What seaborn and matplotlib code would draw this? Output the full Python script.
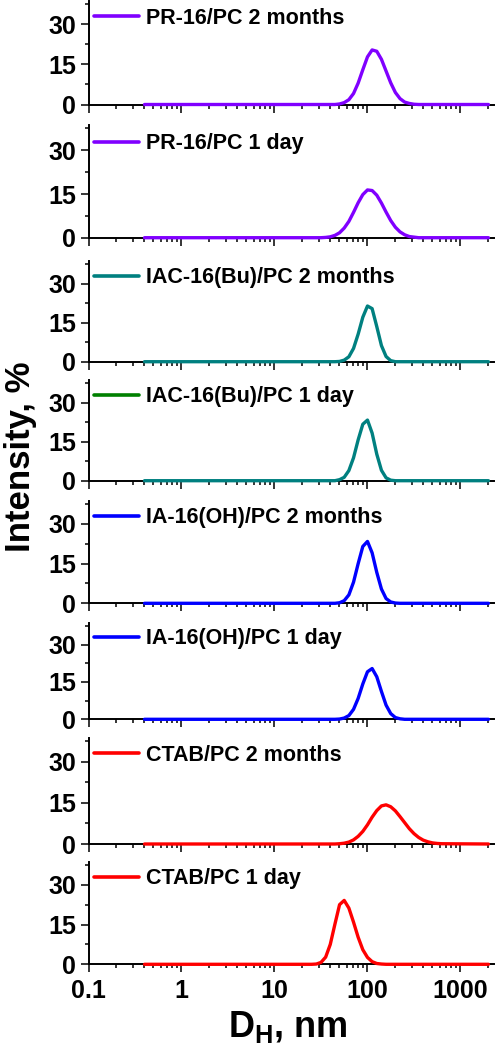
import pandas as pd
import seaborn as sns
import matplotlib.pyplot as plt
from matplotlib.lines import Line2D
from matplotlib.ticker import MultipleLocator, LogLocator, NullFormatter

# hydrodynamic diameter grid, nm
sizes = [0.4,
         25.1, 28.2, 31.6, 35.5, 39.8, 44.7, 50.1, 56.2, 63.1, 70.8,
         79.4, 89.1, 100.0, 112.2, 125.9, 141.3, 158.5, 177.8, 199.5, 223.9,
         251.2, 281.8, 316.2, 354.8, 398.1, 446.7, 501.2, 562.3, 631.0,
         2000.0]

# intensity, % (top panel first)
pr16_2m = [0, 0, 0, 0, 0, 0, 0, 0.2, 0.7, 1.8, 4.1, 8.0, 13.0, 17.8, 20.4, 19.9,
           16.9, 12.5, 8.1, 4.5, 2.2, 0.9, 0.4, 0.1, 0, 0, 0, 0, 0, 0, 0]
pr16_1d = [0, 0, 0, 0, 0.1, 0.3, 0.8, 1.7, 3.3, 5.6, 8.7, 12.0, 14.8, 16.4, 16.2, 14.6,
           11.9, 8.8, 5.9, 3.6, 2.0, 1.0, 0.4, 0.2, 0, 0, 0, 0, 0, 0, 0]
iac_2m = [0, 0, 0, 0, 0, 0, 0, 0.1, 0.6, 1.9, 5.1, 10.6, 17.1, 21.4, 20.4, 13.5,
          6.2, 2.0, 0.4, 0, 0, 0, 0, 0, 0, 0, 0, 0, 0, 0, 0]
iac_1d = [0, 0, 0, 0, 0, 0, 0, 0.4, 1.3, 3.9, 8.8, 15.7, 21.7, 23.3, 18.3, 10.2,
          4.0, 1.1, 0.2, 0, 0, 0, 0, 0, 0, 0, 0, 0, 0, 0, 0]
ia_2m = [0, 0, 0, 0, 0, 0, 0, 0.2, 1.0, 3.2, 8.0, 15.0, 21.5, 23.4, 19.1, 11.7,
         5.4, 1.8, 0.5, 0.1, 0, 0, 0, 0, 0, 0, 0, 0, 0, 0, 0]
ia_1d = [0, 0, 0, 0, 0, 0, 0, 0.1, 0.5, 1.5, 4.0, 8.4, 14.2, 19.1, 20.4, 17.1,
         11.2, 5.7, 2.3, 0.7, 0.2, 0, 0, 0, 0, 0, 0, 0, 0, 0, 0]
ctab_2m = [0, 0, 0, 0, 0, 0, 0, 0.1, 0.3, 0.7, 1.5, 2.8, 4.6, 7.0, 9.8, 12.2,
           13.9, 14.3, 13.6, 12.1, 10.0, 7.8, 5.6, 3.8, 2.4, 1.4, 0.8, 0.4, 0.2, 0.1, 0]
ctab_1d = [0, 0, 0.1, 0.7, 2.7, 7.5, 15.2, 22.5, 24.1, 21.2, 15.9, 10.2, 5.5, 2.6, 1.0, 0.3,
           0.1, 0, 0, 0, 0, 0, 0, 0, 0, 0, 0, 0, 0, 0, 0]

labels = ["PR-16/PC 2 months", "PR-16/PC 1 day",
          "IAC-16(Bu)/PC 2 months", "IAC-16(Bu)/PC 1 day",
          "IA-16(OH)/PC 2 months", "IA-16(OH)/PC 1 day",
          "CTAB/PC 2 months", "CTAB/PC 1 day"]
series = [pr16_2m, pr16_1d, iac_2m, iac_1d, ia_2m, ia_1d, ctab_2m, ctab_1d]
line_colors = ["#8000FF", "#8000FF", "#008080", "#008080",
               "#0000FF", "#0000FF", "#FF0000", "#FF0000"]
legend_colors = ["#8000FF", "#8000FF", "#008080", "#008000",
                 "#0000FF", "#0000FF", "#FF0000", "#FF0000"]

xticks = [0.1, 1, 10, 100, 1000]
xticklabels = ["0.1", "1", "10", "100", "1000"]

df = pd.DataFrame({
    "size": sizes * len(series),
    "intensity": [v for s in series for v in s],
    "sample": [lab for lab in labels for _ in sizes],
})

sns.set_style("ticks")
plt.rcParams["font.family"] = ["Liberation Sans", "DejaVu Sans"]
plt.rcParams["font.weight"] = "bold"
plt.rcParams["text.color"] = "black"
plt.rcParams["xtick.color"] = "black"
plt.rcParams["ytick.color"] = "black"
plt.rcParams["xtick.labelcolor"] = "black"
plt.rcParams["ytick.labelcolor"] = "black"
plt.rcParams["mathtext.fontset"] = "custom"
plt.rcParams["mathtext.rm"] = "Liberation Sans:bold"
plt.rcParams["mathtext.it"] = "Liberation Sans:bold"
plt.rcParams["mathtext.bf"] = "Liberation Sans:bold"

W, H = 500, 1052
fig = plt.figure(figsize=(W / 100, H / 100), dpi=100)

# panel top/bottom in pixels
panel_px = [(1, 104.5), (125, 237.7), (261, 361.7), (380, 480.7),
            (501, 603.3), (623, 719.3), (738, 844), (861.7, 964.3)]
ax_left, ax_w = 88.5, 405.6

for k, lab in enumerate(labels):
    top, bot = panel_px[k]
    ax = fig.add_axes([ax_left / W, 1 - bot / H, ax_w / W, (bot - top) / H])
    ax.set_xscale("log")
    sns.lineplot(data=df[df["sample"] == lab], x="size", y="intensity",
                 color=line_colors[k], linewidth=2.4, ax=ax,
                 estimator=None, sort=False)
    for ln in ax.lines:
        ln.set_clip_on(False)
        ln.set_zorder(3)
        ln.set_solid_joinstyle("round")
        ln.set_solid_capstyle("round")
    ax.set_xlim(0.1, 2300)
    ax.set_ylim(0, 38.7)
    ax.yaxis.set_major_locator(MultipleLocator(15))
    ax.yaxis.set_minor_locator(MultipleLocator(7.5))
    ax.set_xticks(xticks)
    ax.xaxis.set_minor_locator(LogLocator(base=10, subs=range(2, 10)))
    ax.xaxis.set_minor_formatter(NullFormatter())
    if k == len(labels) - 1:
        ax.set_xticklabels(xticklabels)
    else:
        ax.set_xticklabels([])
    ax.set_xlabel("")
    ax.set_ylabel("")
    for side in ["top", "right"]:
        ax.spines[side].set_visible(False)
    for side in ["left", "bottom"]:
        ax.spines[side].set_linewidth(1.4)
        ax.spines[side].set_color("black")
    ax.tick_params(which="major", direction="out", length=5.8, width=1.1,
                   labelsize=18, pad=3, color="black", labelcolor="black")
    ax.tick_params(which="minor", direction="out", length=2.9, width=1.1,
                   color="black")
    ax.tick_params(axis="x", which="major", pad=5)
    handle = Line2D([0], [0], color=legend_colors[k], linewidth=2.6)
    ax.legend(handles=[handle], labels=[lab], loc="center left",
              bbox_to_anchor=(5 / ax_w, 32.3 / 38.7), bbox_transform=ax.transAxes,
              frameon=False, borderpad=0, borderaxespad=0,
              handlelength=2.1, handletextpad=0.35,
              prop={"weight": "bold", "size": 15.5})

fig.text(21 / W, 1 - 457 / H, "Intensity, %", rotation=90, ha="center",
         va="center", fontsize=25, fontweight="bold")
fig.text(288 / W, 1 - 1037 / H, r"D$_{\mathrm{H}}$, nm", ha="center",
         va="baseline", fontsize=26, fontweight="bold")

fig.savefig("out.png", dpi=100)
